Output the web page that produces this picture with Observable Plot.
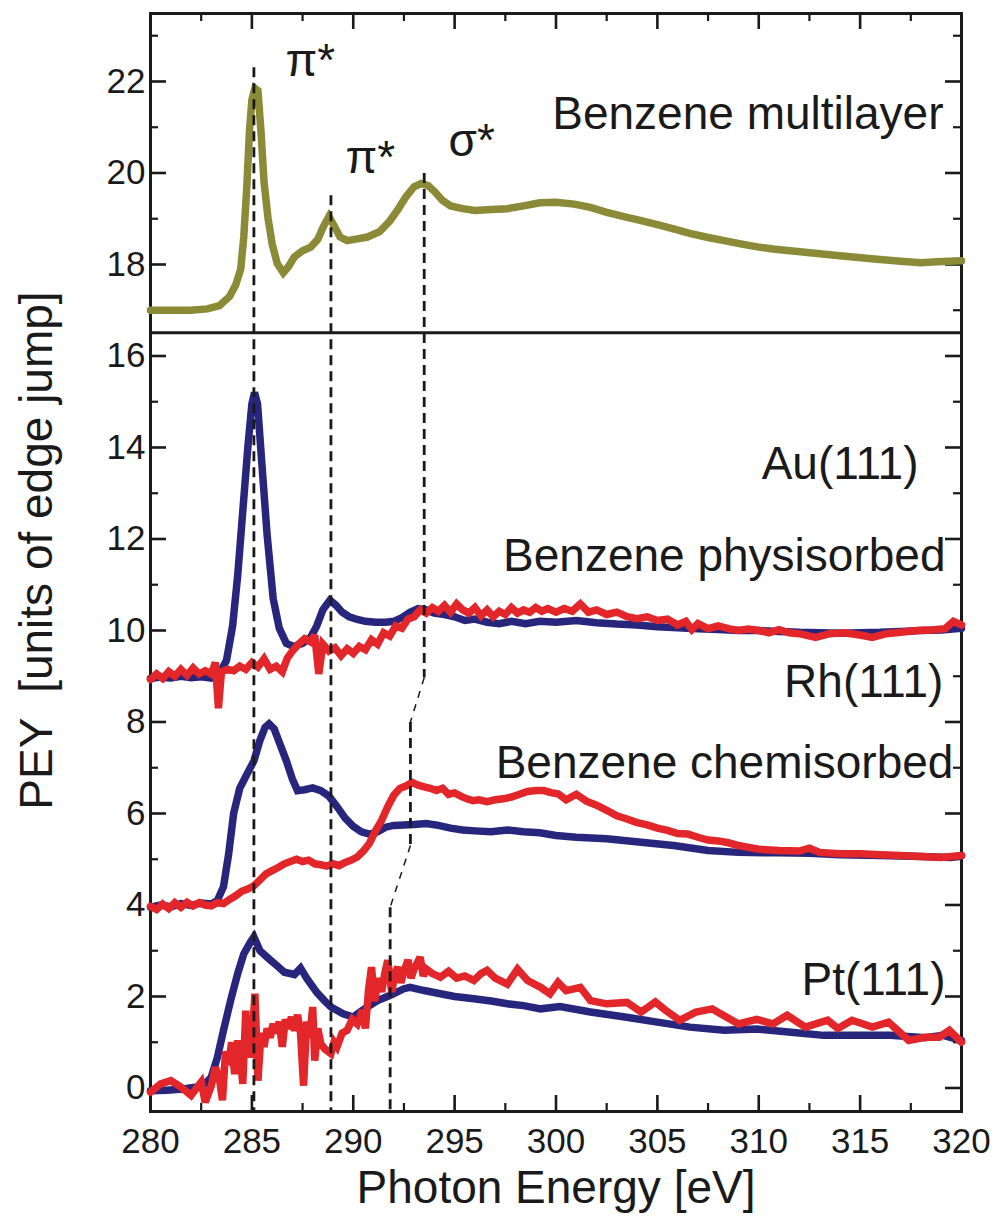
<!DOCTYPE html>
<html>
<head>
<meta charset="utf-8">
<script src="https://cdn.jsdelivr.net/npm/d3@7"></script>
<script src="https://cdn.jsdelivr.net/npm/@observablehq/plot@0.6"></script>
<style>
  body { margin: 0; background: #fff; }
  #chart svg { display: block; }
</style>
</head>
<body>
<div id="chart"></div>
<script>
// C K-edge NEXAFS of benzene: multilayer (top) and monolayers on Au, Rh, Pt (bottom, offset).
// Each series is a list of [photon energy (eV), PEY (units of edge jump)].

const multilayer = [[280,17.0],[281,17.0],[282,17.0],[282.8,17.03],[283.4,17.1],[283.9,17.3],[284.2,17.55],[284.45,17.9],[284.6,18.6],[284.75,19.7],[284.88,20.9],[285.0,21.6],[285.15,21.85],[285.3,21.8],[285.45,20.9],[285.6,19.8],[285.8,19.0],[286.0,18.45],[286.25,18.02],[286.55,17.82],[286.8,17.95],[287.1,18.17],[287.5,18.3],[287.9,18.38],[288.25,18.55],[288.55,18.85],[288.8,19.05],[289.05,18.85],[289.35,18.6],[289.7,18.52],[290.2,18.56],[290.7,18.6],[291.3,18.72],[291.8,18.95],[292.2,19.2],[292.6,19.48],[293.0,19.7],[293.35,19.77],[293.7,19.72],[294.0,19.6],[294.4,19.4],[294.8,19.28],[295.4,19.22],[296.0,19.18],[296.8,19.2],[297.6,19.22],[298.4,19.28],[299.2,19.35],[300.0,19.36],[300.9,19.32],[301.7,19.25],[302.5,19.14],[303.3,19.05],[304.2,18.96],[305.0,18.87],[305.8,18.78],[306.6,18.68],[307.5,18.59],[308.3,18.52],[309.1,18.45],[310.0,18.38],[310.7,18.34],[312.4,18.26],[314.0,18.19],[315.7,18.12],[317.0,18.07],[318.0,18.04],[318.8,18.06],[320.0,18.08]];

const auBlue = [[280,8.95],[280.5,8.98],[281.0,8.96],[281.5,9.0],[282.0,8.97],[282.5,8.99],[283.0,8.96],[283.4,9.05],[283.75,9.35],[284.05,10.1],[284.3,11.2],[284.55,12.6],[284.8,14.0],[285.0,14.95],[285.13,15.2],[285.28,14.95],[285.5,13.6],[285.75,12.1],[286.05,10.7],[286.35,10.05],[286.7,9.72],[287.05,9.65],[287.5,9.72],[287.9,9.85],[288.2,10.1],[288.5,10.45],[288.85,10.66],[289.15,10.55],[289.45,10.4],[289.8,10.3],[290.2,10.24],[290.6,10.2],[291.1,10.18],[291.6,10.18],[292.0,10.2],[292.4,10.28],[292.8,10.4],[293.2,10.48],[293.6,10.45],[294.0,10.38],[294.5,10.35],[295.0,10.3],[295.5,10.22],[296.0,10.25],[296.6,10.18],[297.2,10.15],[297.8,10.2],[298.5,10.15],[299.2,10.2],[300.0,10.18],[301.0,10.22],[302.0,10.17],[303.0,10.14],[304.0,10.12],[305.0,10.08],[306.0,10.06],[307.0,10.04],[308.0,10.02],[309.0,10.0],[310.0,10.0],[311.0,9.98],[312.0,9.96],[313.0,9.95],[314.0,9.94],[315.0,9.95],[316.0,9.96],[317.0,9.98],[318.0,10.0],[319.0,10.01],[320.0,10.05]];

const auRed = [[280,8.93],[280.3,9.05],[280.6,8.95],[280.9,9.1],[281.2,9.0],[281.5,9.15],[281.8,9.02],[282.1,9.18],[282.4,9.05],[282.7,9.12],[283.0,9.05],[283.2,9.3],[283.35,8.3],[283.5,9.1],[283.8,9.15],[284.1,9.12],[284.4,9.22],[284.7,9.15],[285.0,9.3],[285.3,9.2],[285.6,9.38],[285.9,9.15],[286.2,9.22],[286.5,9.1],[286.75,9.4],[287.0,9.55],[287.3,9.7],[287.6,9.82],[287.9,9.75],[288.1,9.9],[288.3,9.05],[288.5,9.7],[288.8,9.55],[289.1,9.62],[289.4,9.45],[289.7,9.6],[290.0,9.5],[290.3,9.65],[290.6,9.58],[290.9,9.8],[291.2,9.7],[291.5,9.95],[291.8,9.88],[292.1,10.1],[292.4,10.05],[292.7,10.25],[293.0,10.3],[293.3,10.45],[293.6,10.38],[293.9,10.5],[294.2,10.42],[294.5,10.55],[294.8,10.4],[295.1,10.58],[295.4,10.45],[295.7,10.38],[296.0,10.5],[296.3,10.32],[296.6,10.45],[296.9,10.3],[297.2,10.42],[297.5,10.35],[297.8,10.5],[298.1,10.38],[298.4,10.45],[298.7,10.4],[299.0,10.5],[299.3,10.42],[299.6,10.48],[300.0,10.4],[300.4,10.48],[300.8,10.42],[301.2,10.58],[301.6,10.4],[302.0,10.45],[302.5,10.35],[303.0,10.4],[303.5,10.3],[304.0,10.26],[304.5,10.3],[305.0,10.22],[305.5,10.25],[306.0,10.12],[306.4,10.2],[306.7,10.02],[307.0,10.15],[307.5,10.04],[308.0,10.1],[308.5,10.04],[309.0,10.0],[309.5,10.03],[310.0,10.0],[310.5,9.95],[311.0,10.02],[311.5,9.95],[312.0,9.93],[312.8,9.85],[313.5,9.93],[314.2,9.95],[315.0,9.9],[315.6,9.85],[316.3,9.93],[317.0,9.96],[317.8,10.0],[318.5,10.01],[319.2,10.04],[319.6,10.2],[320,10.12]];

const rhBlue = [[280,3.95],[280.5,4.0],[281.0,3.96],[281.5,4.03],[282.0,3.99],[282.5,4.04],[283.0,4.02],[283.3,4.1],[283.6,4.4],[283.85,5.1],[284.1,6.0],[284.4,6.55],[284.75,6.85],[285.1,7.15],[285.4,7.6],[285.65,7.88],[285.85,7.96],[286.1,7.85],[286.4,7.5],[286.7,7.15],[287.0,6.75],[287.25,6.5],[287.6,6.52],[288.0,6.56],[288.4,6.5],[288.8,6.38],[289.2,6.15],[289.6,5.9],[290.0,5.72],[290.4,5.6],[290.8,5.55],[291.2,5.6],[291.6,5.7],[292.0,5.74],[292.5,5.75],[293.0,5.76],[293.6,5.78],[294.2,5.74],[294.8,5.68],[295.4,5.64],[296.0,5.62],[296.8,5.6],[297.6,5.64],[298.4,5.6],[299.2,5.58],[300.0,5.52],[301.0,5.48],[302.5,5.45],[304.2,5.37],[305.8,5.3],[307.5,5.19],[309.0,5.15],[311.0,5.14],[312.5,5.13],[314.0,5.1],[316.0,5.08],[318.0,5.06],[319.5,5.04],[320.0,5.08]];

const rhRed = [[280,3.97],[280.3,3.9],[280.6,4.02],[280.9,3.92],[281.2,4.05],[281.5,3.95],[281.8,4.06],[282.1,3.98],[282.4,4.05],[282.7,4.0],[283.0,3.98],[283.3,4.05],[283.6,4.03],[283.9,4.12],[284.2,4.2],[284.5,4.3],[284.8,4.35],[285.1,4.42],[285.4,4.55],[285.7,4.68],[286.0,4.75],[286.3,4.82],[286.6,4.9],[286.9,4.95],[287.2,5.0],[287.5,4.95],[287.8,4.98],[288.1,4.9],[288.4,4.88],[288.7,4.85],[289.0,4.9],[289.3,4.86],[289.6,4.93],[289.9,4.98],[290.2,5.05],[290.5,5.18],[290.8,5.35],[291.1,5.62],[291.4,5.85],[291.7,6.15],[292.0,6.4],[292.3,6.55],[292.6,6.6],[292.9,6.68],[293.2,6.62],[293.5,6.58],[293.8,6.55],[294.1,6.5],[294.4,6.55],[294.7,6.42],[295.0,6.45],[295.3,6.38],[295.6,6.32],[295.9,6.28],[296.2,6.3],[296.6,6.26],[297.0,6.3],[297.4,6.32],[297.8,6.36],[298.2,6.42],[298.6,6.48],[299.0,6.5],[299.4,6.5],[299.8,6.45],[300.1,6.43],[300.5,6.3],[301.0,6.42],[301.5,6.27],[302.0,6.18],[302.5,6.07],[303.0,5.95],[303.5,5.88],[304.0,5.8],[304.5,5.75],[305.0,5.68],[305.5,5.63],[306.0,5.56],[306.5,5.55],[307.0,5.48],[307.5,5.42],[308.0,5.4],[308.5,5.36],[309.0,5.3],[309.5,5.26],[310.0,5.22],[311.0,5.19],[312.0,5.18],[312.5,5.24],[313.0,5.15],[314.0,5.12],[315.0,5.12],[316.0,5.1],[317.0,5.08],[318.0,5.06],[319.0,5.04],[320.0,5.08]];

const ptBlue = [[280,-0.06],[280.8,-0.05],[281.6,-0.02],[282.3,0.02],[282.6,0.05],[283.0,0.24],[283.3,0.67],[283.6,1.26],[283.95,1.91],[284.3,2.5],[284.6,2.93],[284.93,3.19],[285.1,3.3],[285.4,3.0],[285.9,2.8],[286.3,2.65],[286.6,2.53],[287.1,2.48],[287.4,2.62],[287.7,2.4],[288.2,2.09],[288.6,1.9],[288.9,1.77],[289.5,1.62],[290.0,1.55],[290.4,1.68],[290.8,1.8],[291.2,1.91],[291.8,2.02],[292.5,2.17],[292.8,2.2],[293.5,2.13],[294.3,2.06],[295.0,2.0],[295.95,1.95],[296.8,1.9],[297.6,1.84],[298.4,1.8],[299.24,1.73],[300.2,1.78],[301.7,1.66],[303.4,1.55],[305.0,1.44],[306.6,1.33],[308.3,1.26],[309.9,1.29],[311.6,1.22],[313.2,1.15],[314.9,1.15],[316.5,1.15],[318.2,1.1],[319.1,1.15],[320,1.04]];

const ptRed = [[280,-0.09],[280.5,0.09],[281.0,0.16],[281.5,0.02],[282.0,-0.16],[282.5,0.13],[282.7,-0.31],[283.0,0.05],[283.2,0.45],[283.4,0.2],[283.55,-0.27],[283.7,0.8],[283.85,0.5],[284.0,1.0],[284.15,0.3],[284.3,1.04],[284.45,0.6],[284.55,0.09],[284.7,1.69],[284.8,0.9],[284.9,0.67],[285.05,1.3],[285.15,2.06],[285.3,0.16],[285.45,1.2],[285.6,0.9],[285.75,1.3],[285.9,1.1],[286.05,1.4],[286.2,1.2],[286.35,1.45],[286.5,0.9],[286.65,1.5],[286.8,1.3],[286.95,1.55],[287.1,1.25],[287.25,1.6],[287.4,1.2],[287.55,0.05],[287.7,1.45],[287.85,1.1],[288.0,1.77],[288.1,0.6],[288.25,1.3],[288.4,0.97],[288.6,0.85],[288.9,0.75],[289.05,1.0],[289.2,0.9],[289.45,1.2],[289.7,1.26],[289.95,1.5],[290.2,1.4],[290.45,1.7],[290.6,1.3],[290.75,2.13],[290.9,2.64],[291.05,1.9],[291.25,2.4],[291.4,2.1],[291.55,2.5],[291.7,2.79],[291.9,2.1],[292.05,2.5],[292.2,2.64],[292.35,2.3],[292.5,2.55],[292.7,2.8],[292.85,2.4],[293.0,2.6],[293.3,2.86],[293.45,2.45],[293.6,2.6],[293.9,2.5],[294.3,2.42],[294.7,2.55],[295.1,2.4],[295.5,2.45],[295.95,2.35],[296.3,2.5],[296.6,2.57],[297.0,2.4],[297.6,2.27],[298.1,2.6],[298.6,2.35],[299.24,2.2],[299.7,2.06],[300.1,2.31],[300.5,2.13],[301.2,2.2],[301.7,1.91],[302.5,1.84],[303.5,1.87],[304.2,1.66],[304.9,1.88],[305.4,1.7],[306.1,1.48],[306.9,1.66],[307.7,1.73],[308.4,1.55],[309.0,1.4],[309.9,1.5],[310.7,1.4],[311.4,1.59],[312.3,1.33],[313.4,1.48],[313.9,1.3],[314.6,1.48],[315.6,1.33],[316.4,1.44],[317.4,1.04],[318.2,1.11],[318.9,1.11],[319.4,1.26],[320,1.0]];

// Resonance guides: pi* lines (energy, upper end) and the sigma* line that shifts between panels.
const piGuides = [{energy: 285.1, top: 22.3}, {energy: 288.9, top: 19.5}];
const sigmaGuide = [[293.5, 20.0], [293.5, 8.97], [292.82, 8.0], [292.82, 5.3], [291.82, 3.95], [291.82, -0.514]];

// Axis ticks and labels
const yTickValues = d3.range(0, 24);
const yLabels = [0, 2, 4, 6, 8, 10, 12, 14, 16, 18, 20, 22];
const xTickValues = d3.range(280, 320.01, 2.5);
const xLabels = [280, 285, 290, 295, 300, 305, 310, 315, 320];
const panelBreak = 16.51;

const xDomain = [280, 320];
const yDomain = [-0.514, 23.486];

const colors = {olive: "#8b8a36", navy: "#28267c", red: "#e2262a"};
const ink = "#1a1a1a";
const font = "'Liberation Sans', Arial, Helvetica, sans-serif";

const W = 1008, H = 1219;
const M = {top: 13, right: 47, bottom: 108, left: 150};
const innerW = W - M.left - M.right;
const innerH = H - M.top - M.bottom;

// tick lengths in pixels, turned into data units so the ticks point inward from the frame
const evPerPx = (xDomain[1] - xDomain[0]) / innerW;
const unitPerPx = (yDomain[1] - yDomain[0]) / innerH;
const majorLen = 16, minorLen = 8;

const isMajorY = d => d % 2 === 0;
const isMajorX = d => d % 5 === 0;

function spectrum(data, color) {
  return Plot.line(data, {x: d => d[0], y: d => d[1], stroke: color, strokeWidth: 7.5, strokeLinejoin: "miter", strokeMiterlimit: 2.5});
}

function yTicks(values, len, width) {
  return [
    Plot.ruleY(values, {y: d => d, x1: xDomain[0], x2: xDomain[0] + len * evPerPx, stroke: ink, strokeWidth: width}),
    Plot.ruleY(values, {y: d => d, x1: xDomain[1] - len * evPerPx, x2: xDomain[1], stroke: ink, strokeWidth: width})
  ];
}
function xTicks(values, len, width) {
  return [
    Plot.ruleX(values, {x: d => d, y1: yDomain[0], y2: yDomain[0] + len * unitPerPx, stroke: ink, strokeWidth: width}),
    Plot.ruleX(values, {x: d => d, y1: yDomain[1] - len * unitPerPx, y2: yDomain[1], stroke: ink, strokeWidth: width})
  ];
}

const segs = d3.pairs(sigmaGuide);
const vertical = s => s[0][0] === s[1][0];
const annot = {fontSize: 46, fill: ink, lineAnchor: "bottom"};

const chart = Plot.plot({
  width: W,
  height: H,
  marginTop: M.top,
  marginRight: M.right,
  marginBottom: M.bottom,
  marginLeft: M.left,
  x: {domain: xDomain, axis: null},
  y: {domain: yDomain, axis: null},
  style: {fontFamily: font, background: "white", color: ink},
  marks: [
    // frame with inward ticks on all four sides, and the panel divider
    Plot.frame({stroke: ink, strokeWidth: 3}),
    ...yTicks(yTickValues.filter(isMajorY), majorLen, 2.6),
    ...yTicks(yTickValues.filter(d => !isMajorY(d)), minorLen, 2.2),
    ...xTicks(xTickValues.filter(isMajorX), majorLen, 2.6),
    ...xTicks(xTickValues.filter(d => !isMajorX(d)), minorLen, 2.2),
    Plot.ruleY([panelBreak], {stroke: ink, strokeWidth: 3}),

    // spectra
    spectrum(multilayer, colors.olive),
    spectrum(auBlue, colors.navy),
    spectrum(auRed, colors.red),
    spectrum(rhBlue, colors.navy),
    spectrum(rhRed, colors.red),
    spectrum(ptBlue, colors.navy),
    spectrum(ptRed, colors.red),

    // dashed resonance guides
    Plot.ruleX(piGuides, {x: "energy", y1: "top", y2: yDomain[0], stroke: ink, strokeWidth: 2.8, strokeDasharray: "10,6"}),
    Plot.link(segs.filter(vertical), {x1: s => s[0][0], y1: s => s[0][1], x2: s => s[1][0], y2: s => s[1][1], stroke: ink, strokeWidth: 2.8, strokeDasharray: "10,6"}),
    Plot.link(segs.filter(s => !vertical(s)), {x1: s => s[0][0], y1: s => s[0][1], x2: s => s[1][0], y2: s => s[1][1], stroke: ink, strokeWidth: 1.5, strokeDasharray: "7,7"}),

    // tick labels
    Plot.text(yLabels, {y: d => d, text: d => String(d), frameAnchor: "left", textAnchor: "end", dx: -5, fontSize: 35, fill: ink}),
    Plot.text(xLabels, {x: d => d, text: d => String(d), frameAnchor: "bottom", lineAnchor: "top", dy: 17, fontSize: 35, fill: ink}),

    // axis titles
    Plot.text(["Photon Energy [eV]"], {frameAnchor: "bottom", lineAnchor: "top", dy: 59, fontSize: 46, fill: ink}),
    Plot.text(["PEY  [units of edge jump]"], {frameAnchor: "left", textAnchor: "middle", rotate: -90, dx: -113, dy: -12, fontSize: 46, fill: ink}),

    // resonance and sample annotations
    Plot.text(["π*"], {x: 286.66, y: 22.13, textAnchor: "start", ...annot}),
    Plot.text(["π*"], {x: 289.62, y: 19.99, textAnchor: "start", ...annot}),
    Plot.text(["σ*"], {x: 294.7, y: 20.38, textAnchor: "start", ...annot}),
    Plot.text(["Benzene multilayer"], {x: 319.11, y: 20.97, textAnchor: "end", ...annot}),
    Plot.text(["Au(111)"], {x: 317.88, y: 13.32, textAnchor: "end", ...annot}),
    Plot.text(["Benzene physisorbed"], {x: 319.21, y: 11.31, textAnchor: "end", ...annot}),
    Plot.text(["Rh(111)"], {x: 319.11, y: 8.54, textAnchor: "end", ...annot}),
    Plot.text(["Benzene chemisorbed"], {x: 319.6, y: 6.77, textAnchor: "end", ...annot}),
    Plot.text(["Pt(111)"], {x: 319.21, y: 2.04, textAnchor: "end", ...annot})
  ]
});

document.getElementById("chart").appendChild(chart);
</script>
</body>
</html>
